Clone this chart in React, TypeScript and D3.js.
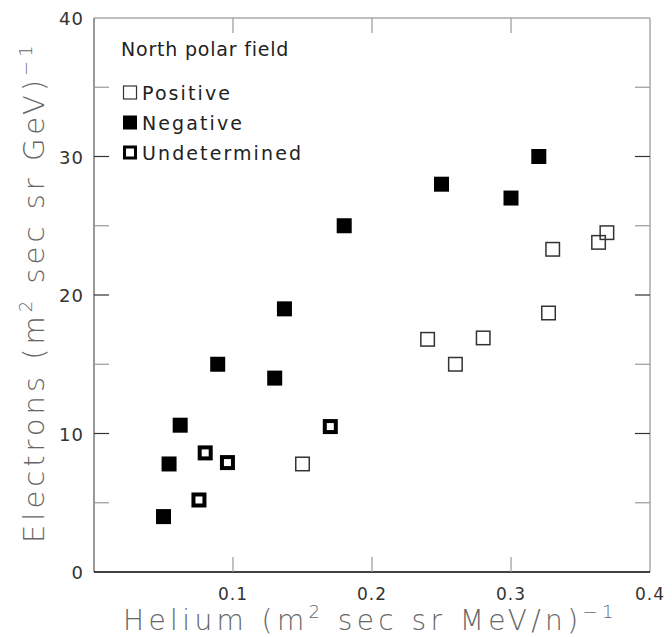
import React from "react";
import * as d3 from "d3";

const positiveX = [0.150, 0.240, 0.260, 0.280, 0.327, 0.330, 0.363, 0.369];
const positiveY = [7.8, 16.8, 15.0, 16.9, 18.7, 23.3, 23.8, 24.5];
const negativeX = [0.050, 0.054, 0.062, 0.089, 0.130, 0.137, 0.180, 0.250, 0.300, 0.320];
const negativeY = [4.0, 7.8, 10.6, 15.0, 14.0, 19.0, 25.0, 28.0, 27.0, 30.0];
const undetX = [0.0755, 0.080, 0.096, 0.170];
const undetY = [5.2, 8.6, 7.9, 10.5];

const xTicks = [0.1, 0.2, 0.3, 0.4];
const yTicks = [0, 10, 20, 30, 40];
const yMinorTicks = [5, 15, 25, 35];
const legendLabels = ["Positive", "Negative", "Undetermined"];

const W = 672, H = 637;
const L = 94, R = 650, T = 18, B = 572;

export default function App() {
  const x = d3.scaleLinear().domain([0, 0.4]).range([L, R]);
  const y = d3.scaleLinear().domain([0, 40]).range([B, T]);
  const S = 15;
  const font = "'DejaVu Sans', sans-serif";
  const tickLen = 15;

  const pts = (xs: number[], ys: number[]) => xs.map((v, i) => [x(v), y(ys[i])]);

  return (
    <svg width={W} height={H} style={{ position: "absolute", left: 0, top: 0, background: "#fff" }}>
      {/* frame */}
      <line x1={L} x2={R} y1={T} y2={T} stroke="#aaa" strokeWidth={1.5} />
      <line x1={R} x2={R} y1={T} y2={B} stroke="#aaa" strokeWidth={1.5} />
      <line x1={L} x2={L} y1={T} y2={B} stroke="#555" strokeWidth={1.2} />
      <line x1={L} x2={R} y1={B} y2={B} stroke="#000" strokeWidth={1.5} />
      {/* y ticks */}
      {yTicks.slice(1, -1).map((t) => (
        <g key={"yt" + t}>
          <line x1={L} x2={L + tickLen} y1={y(t)} y2={y(t)} stroke="#333" strokeWidth={1.2} />
          <line x1={R} x2={R - tickLen} y1={y(t)} y2={y(t)} stroke="#333" strokeWidth={1.2} />
        </g>
      ))}
      {yMinorTicks.map((t) => (
        <g key={"ym" + t}>
          <line x1={L} x2={L + tickLen} y1={y(t)} y2={y(t)} stroke="#999" strokeWidth={1.2} />
          <line x1={R} x2={R - tickLen} y1={y(t)} y2={y(t)} stroke="#999" strokeWidth={1.2} />
        </g>
      ))}
      {xTicks.slice(0, -1).map((t) => (
        <g key={"xt" + t}>
          <line x1={x(t)} x2={x(t)} y1={B} y2={B - tickLen} stroke="#999" strokeWidth={1.2} />
          <line x1={x(t)} x2={x(t)} y1={T} y2={T + tickLen} stroke="#999" strokeWidth={1.2} />
        </g>
      ))}
      {/* tick labels */}
      {yTicks.map((t) => (
        <text key={"yl" + t} x={L - 10} y={y(t) + 7} textAnchor="end" fontFamily={font} fontSize={18} fill="#333" letterSpacing={1}>
          {t}
        </text>
      ))}
      {xTicks.map((t) => (
        <text key={"xl" + t} x={x(t)} y={B + 28} textAnchor="middle" fontFamily={font} fontSize={17} fill="#333" letterSpacing={1}>
          {d3.format(".1f")(t)}
        </text>
      ))}
      {/* axis titles */}
      <text x={123} y={630} fontFamily={font} fontSize={28} fontWeight={200} fill="#666" letterSpacing={4.4}>
        Helium (m<tspan dy={-12} fontSize={18}>2</tspan>
        <tspan dy={12}> sec sr MeV/n)</tspan>
        <tspan dy={-12} fontSize={18}>−1</tspan>
      </text>
      <text transform={`translate(44, 543) rotate(-90)`} fontFamily={font} fontSize={29} fontWeight={200} fill="#666" letterSpacing={4}>
        Electrons (m<tspan dy={-12} fontSize={18}>2</tspan>
        <tspan dy={12}> sec sr GeV)</tspan>
        <tspan dy={-12} fontSize={18}>−1</tspan>
      </text>
      {/* data */}
      {pts(positiveX, positiveY).map(([cx, cy], i) => (
        <rect key={"p" + i} x={cx - S / 2 + 0.75} y={cy - S / 2 + 0.75} width={S - 1.5} height={S - 1.5} fill="none" stroke="#333" strokeWidth={1.5} />
      ))}
      {pts(negativeX, negativeY).map(([cx, cy], i) => (
        <rect key={"n" + i} x={cx - S / 2} y={cy - S / 2} width={S} height={S} fill="#000" />
      ))}
      {pts(undetX, undetY).map(([cx, cy], i) => (
        <rect key={"u" + i} x={cx - S / 2 + 2} y={cy - S / 2 + 2} width={S - 4} height={S - 4} fill="#fff" stroke="#000" strokeWidth={4} />
      ))}
      {/* legend */}
      <text x={121} y={56} fontFamily={font} fontSize={19} fill="#222" letterSpacing={0.8}>
        North polar field
      </text>
      {legendLabels.map((lab, i) => {
        const ly = 93 + i * 30;
        return (
          <g key={lab}>
            {i === 0 && <rect x={123.5} y={ly - 7} width={13} height={13} fill="#fff" stroke="#333" strokeWidth={1.2} />}
            {i === 1 && <rect x={123} y={ly - 7.5} width={14} height={14} fill="#000" />}
            {i === 2 && <rect x={124.5} y={ly - 6} width={11} height={11} fill="#fff" stroke="#000" strokeWidth={3} />}
            <text x={142} y={ly + 7} fontFamily={font} fontSize={19} fill="#222" letterSpacing={2.1}>
              {lab}
            </text>
          </g>
        );
      })}
    </svg>
  );
}
